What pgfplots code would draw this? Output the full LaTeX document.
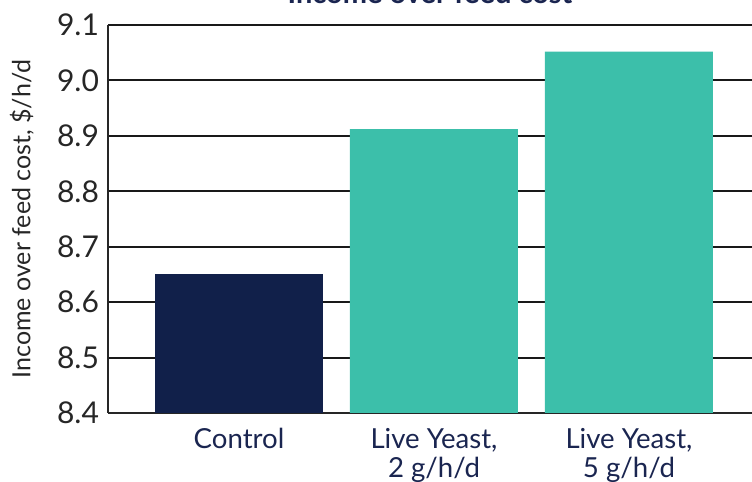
\documentclass[border=0pt]{standalone}
\usepackage{pgfplots}
\pgfplotsset{compat=1.18}
\usepackage{fontspec}
\setmainfont{Lato}
\definecolor{navy}{HTML}{11204A}
\definecolor{teal}{HTML}{3CBFAA}
\definecolor{labelnavy}{HTML}{1A2550}
\begin{document}
\begin{tikzpicture}
\begin{axis}[
  scale only axis,
  width=322pt, height=194pt,
  xmin=-0.672, xmax=2.631,
  ymin=8.4, ymax=9.1,
  ytick={8.4,8.5,...,9.1},
  yticklabel style={/pgf/number format/fixed,/pgf/number format/fixed zerofill,/pgf/number format/precision=1},
  /pgf/number format/assume math mode=true,
  xtick={0,1,2},
  xticklabels={Control,{Live Yeast,\\2 g/h/d},{Live Yeast,\\5 g/h/d}},
  xticklabel style={align=center, font=\fontsize{13.8}{14.5}\selectfont, text=labelnavy, yshift=-4pt},
  yticklabel style={font=\fontsize{15}{16}\selectfont, text=black!85, xshift=-1pt},
  major tick length=0pt,
  axis x line=bottom, axis y line=left,
  axis line style={line width=1.2pt, black!85, -},
  ymajorgrids=true,
  grid style={line width=1pt, black!90},
  ylabel={Income over feed cost, \$/h/d},
  ylabel style={at={(axis description cs:-0.134,0.5)}, anchor=center, font=\fontsize{12.5}{14}\selectfont, text=black!85},
  ybar, bar width=84pt, bar shift=0pt,
]
\addplot[fill=navy, draw=none] coordinates {(0,8.65)};
\addplot[fill=teal, draw=none] coordinates {(1,8.912) (2,9.052)};
\end{axis}
\node[anchor=base, font=\bfseries\fontsize{14.5}{16}\selectfont, text=labelnavy] at ([yshift=11pt]current axis.north) {Income over feed cost};
\pgfresetboundingbox
\useasboundingbox (-54pt,-34.5pt) rectangle (322pt,206.5pt);
\end{tikzpicture}
\end{document}
